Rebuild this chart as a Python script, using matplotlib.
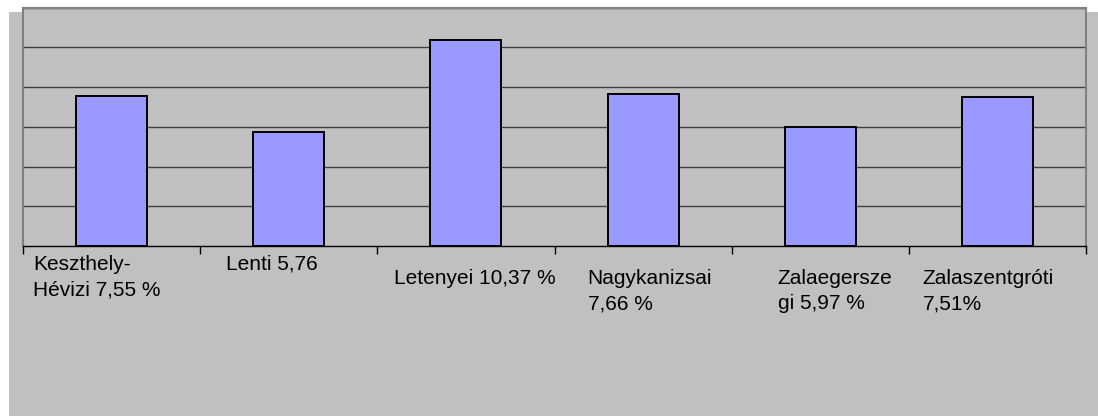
import matplotlib
matplotlib.use('Agg')
import matplotlib.pyplot as plt
from matplotlib.patches import Rectangle

# data
categories = ['Keszthely-\nHévizi 7,55 %', 'Lenti 5,76', 'Letenyei 10,37 %',
              'Nagykanizsai\n7,66 %', 'Zalaegersze\ngi 5,97 %', 'Zalaszentgróti\n7,51%']
values = [7.55, 5.76, 10.37, 7.66, 5.97, 7.51]
# label placement inside each category cell (pixels right of the left tick, pixels below the axis)
label_dx = [10, 26, 17, 33, 46, 14]
label_dy = [-9, -9, -23, -23, -23, -23]

plt.rcParams['font.family'] = ['Liberation Sans', 'DejaVu Sans']

W, H = 1098, 416
fig = plt.figure(figsize=(W / 100, H / 100), dpi=100)
fig.patch.set_facecolor('white')
# gray chart area behind the plot
fig.patches.append(Rectangle((9 / W, 0), 1 - 9 / W, 1 - 12 / H, transform=fig.transFigure,
                             facecolor='#c0c0c0', edgecolor='none', zorder=-10))

ax = fig.add_axes([23 / W, 1 - 246 / H, (1086 - 23) / W, (246 - 7.5) / H])
ax.set_zorder(1)
ax.set_facecolor('#c0c0c0')

x = list(range(len(values)))
ax.bar(x, values, width=0.4, color='#9999ff', edgecolor='black', linewidth=1.4, zorder=3)

ax.set_xlim(-0.5, len(values) - 0.5)
ax.set_ylim(0, 12)
ax.set_yticks(range(2, 13, 2))
ax.yaxis.grid(True, color='#404040', linewidth=1.0, zorder=1)
ax.set_axisbelow(True)
ax.tick_params(axis='y', left=False, labelleft=False)

ax.set_xticks([i - 0.5 for i in range(len(values) + 1)])
ax.set_xticklabels([])
ax.tick_params(axis='x', direction='out', length=6, width=1, color='black')

for side in ['left', 'top', 'right']:
    ax.spines[side].set_color('#808080')
    ax.spines[side].set_linewidth(1.5)
ax.spines['bottom'].set_color('black')
ax.spines['bottom'].set_linewidth(1)

for i, lab in enumerate(categories):
    ax.annotate(lab, xy=(i - 0.5, 0), xycoords=('data', 'axes fraction'),
                xytext=(label_dx[i], label_dy[i]), textcoords='offset pixels',
                ha='left', va='top', fontsize=15, linespacing=1.4, color='black',
                annotation_clip=False)

fig.savefig('out.png', dpi=100)
